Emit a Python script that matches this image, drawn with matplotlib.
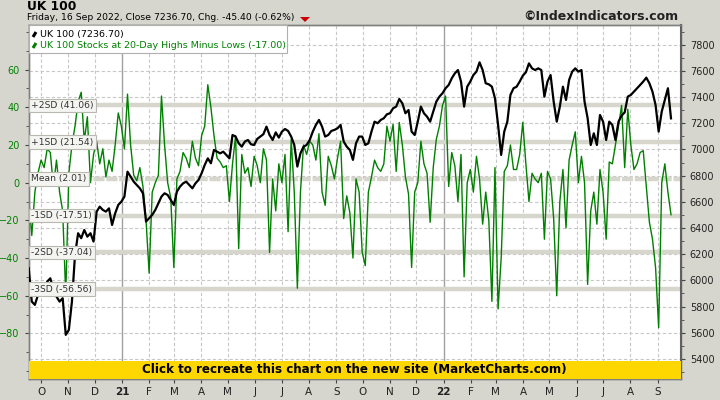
import numpy as np
import pandas as pd
import matplotlib
matplotlib.use('Agg')
import matplotlib.pyplot as plt
from matplotlib.patches import Rectangle, Polygon
from matplotlib.transforms import blended_transform_factory

# UK 100 closes, about two readings a week
uk100 = [6093, 5838, 5813, 5889, 5940, 5889, 5991, 6016, 5927, 5876,
         5838, 5864, 5584, 5622, 5838, 6194, 6360, 6322, 6385, 6334,
         6360, 6296, 6525, 6563, 6538, 6525, 6550, 6423, 6512, 6576,
         6601, 6640, 6830, 6792, 6754, 6729, 6703, 6665, 6449, 6474,
         6500, 6538, 6589, 6640, 6665, 6652, 6614, 6576, 6678, 6716,
         6741, 6754, 6729, 6703, 6741, 6767, 6818, 6881, 6932, 6894,
         6996, 6983, 6970, 6983, 6958, 6932, 7110, 7098, 7047, 7021,
         7060, 7072, 7039, 7034, 7080, 7098, 7116, 7174, 7110, 7072,
         7130, 7090, 7136, 7156, 7141, 7098, 7034, 6869, 6970, 7021,
         7034, 7072, 7136, 7187, 7225, 7174, 7098, 7110, 7141, 7149,
         7161, 7187, 7060, 7021, 6996, 6920, 7047, 7098, 7098, 7034,
         7047, 7136, 7212, 7200, 7225, 7238, 7268, 7276, 7314, 7327,
         7385, 7352, 7276, 7301, 7136, 7110, 7212, 7327, 7276, 7250,
         7212, 7289, 7365, 7403, 7429, 7467, 7492, 7543, 7581, 7606,
         7517, 7327, 7479, 7518, 7568, 7594, 7665, 7606, 7505, 7497,
         7479, 7390, 7187, 6958, 7136, 7212, 7416, 7467, 7479, 7518,
         7563, 7589, 7657, 7619, 7606, 7619, 7606, 7403, 7518, 7568,
         7365, 7212, 7327, 7479, 7378, 7530, 7594, 7619, 7594, 7606,
         7365, 7238, 7034, 7123, 7034, 7263, 7212, 7072, 7212, 7187,
         7072, 7212, 7258, 7283, 7403, 7416, 7441, 7467, 7492, 7518,
         7548, 7505, 7441, 7339, 7136, 7289, 7378, 7467, 7237]

# UK 100 stocks at 20-day highs minus lows, same dates
hl = [-9, -28, -5, 5, 12, 8, 18, 16, -2, 12,
      -5, -15, -60, 5, 20, 30, 43, 48, 22, 35,
      0, 15, 22, 10, 18, 3, 12, 6, 20, 37,
      30, 18, 47, 20, 4, 1, 8, -2, -20, -48,
      -5, 0, 4, 46, 20, 0, -8, -45, 2, 6,
      16, 13, 8, 22, 13, 9, 25, 30, 52, 40,
      25, 13, 11, 8, 9, -10, 10, 25, -35, 15,
      5, 8, -2, 14, 9, 0, 18, 12, -37, 2,
      -15, 10, 0, 15, -26, 23, -5, -56, -5, 20,
      15, 22, 20, 12, 26, -5, -12, 14, 9, 2,
      13, 22, -19, -7, -16, -40, 2, -5, -37, -44,
      -5, 3, 12, 8, 6, 10, 30, 22, 31, 6,
      32, 20, 3, -6, -45, -5, 0, 22, 10, 5,
      -21, 8, 23, 30, 41, 46, -2, 16, 9, -10,
      15, -50, 0, 7, -5, 14, 2, -22, -5, -20,
      -63, 8, -67, -40, 6, 9, 20, 7, 7, 15,
      32, 10, -10, 5, 2, 0, 5, -30, 6, 2,
      -19, -60, -10, 7, -24, 12, 20, 27, 0, 14,
      0, -54, -15, -5, -22, 7, -5, -30, 11, 10,
      20, 30, 41, 8, 39, 20, 7, 10, 16, 17,
      -2, -21, -30, -45, -77, 0, 10, -5, -17]

sd_levels = [41.06, 21.54, 2.01, -17.51, -37.04, -56.56]
sd_labels = ['+2SD (41.06)', '+1SD (21.54)', 'Mean (2.01)',
             '-1SD (-17.51)', '-2SD (-37.04)', '-3SD (-56.56)']

dates = pd.date_range('2020-09-17', '2022-09-16', periods=len(hl))

bg = '#d6d6ce'
green = '#008000'

fig = plt.figure(figsize=(7.2, 4), dpi=100, facecolor=bg)
ax = fig.add_axes([28.7/720, 1-379/400, 652/720, 354/400])
ax.set_facecolor('white')
ax2 = ax.twinx()

ax.set_ylim(-104.2, 83.7)
ax2.set_ylim(5247, 7950)
ax.set_xlim(pd.Timestamp('2020-09-17'), pd.Timestamp('2022-09-27'))

# grid: horizontal lines follow the right scale
tr = blended_transform_factory(ax.transAxes, ax2.transData)
right_ticks = np.arange(5400, 7801, 200)
for v in right_ticks:
    ax.plot([0, 1], [v, v], transform=tr, color='#c8c8c8', lw=0.8,
            ls=(0, (3, 2)), zorder=0)

months = pd.date_range('2020-10-01', '2022-09-01', freq='MS')
for m in months:
    if m.month == 1:
        ax.axvline(m, color='#a0a0a0', lw=1.0, zorder=0)
    else:
        ax.axvline(m, color='#c8c8c8', lw=0.8, ls=(0, (3, 2)), zorder=0)

# SD bands
for lev, lab in zip(sd_levels, sd_labels):
    if lab.startswith('Mean'):
        ax.axhline(lev, color='#d6d6cc', lw=3.2, ls=(0, (2.5, 0.4)), zorder=1)
    else:
        ax.axhline(lev, color='#d6d6cc', lw=3.2, zorder=1)

ax.plot(dates, hl, color=green, lw=1.0, zorder=3)
ax2.plot(dates, uk100, color='black', lw=1.6, zorder=4)

ytr = blended_transform_factory(ax.transAxes, ax.transData)
for lev, lab in zip(sd_levels, sd_labels):
    ax2.text(0.004, lev, lab, transform=ytr, fontsize=6.6, color='#333333',
             va='center', ha='left', zorder=8,
             bbox=dict(boxstyle='square,pad=0.25', fc='#f4f4f0', ec='#b8b8b0', lw=0.8))

# yellow banner at bottom
ax2.add_patch(Rectangle((0, 0), 1, (379-360.7)/354, transform=ax.transAxes,
                        fc='#ffd700', ec='none', zorder=10))
ax2.text(0.5, (379-370)/354, 'Click to recreate this chart on the new site (MarketCharts.com)',
         transform=ax.transAxes, ha='center', va='center', fontsize=8.6,
         fontweight='bold', color='black', zorder=11)

# ticks
ax.set_yticks(np.arange(-80, 61, 20))
ax.set_yticks(np.arange(-100, 81, 10), minor=True)
ax.tick_params(axis='y', which='both', colors='#444444', labelcolor=green,
               labelsize=7, length=3)
ax.tick_params(axis='y', which='minor', length=2)
ax2.set_yticks(right_ticks)
ax2.set_yticks(np.arange(5300, 7901, 100), minor=True)
ax2.tick_params(axis='y', which='both', colors='#444444', labelcolor='#222222',
                labelsize=7, length=3)
ax2.tick_params(axis='y', which='minor', length=2)

ax.set_xticks(months)
labels = []
for m in months:
    labels.append(m.strftime('%y') if m.month == 1 else m.strftime('%b')[0])
ax.set_xticklabels(labels)
ax.tick_params(axis='x', colors='#444444', labelcolor='#222222', labelsize=7.5, length=3,
               pad=2.5)
for t, m in zip(ax.get_xticklabels(), months):
    if m.month == 1:
        t.set_fontweight('bold')

for a in (ax, ax2):
    for s in a.spines.values():
        s.set_color('#808080')
        s.set_linewidth(1.0)
ax2.spines['right'].set_color('#606060')
ax2.spines['right'].set_linewidth(1.5)

# legend box
ax2.add_patch(Rectangle((0, 1-(53-25)/354), (287-28.7)/652, (53-25)/354,
                        transform=ax.transAxes, fc='white', ec='#b0b0b0', lw=0.8, zorder=12))
ax2.plot([33/720, 36/720], [1-37/400, 1-32/400], transform=fig.transFigure,
         color='black', lw=2.2, zorder=13, solid_capstyle='butt')
ax2.plot([33/720, 36/720], [1-48/400, 1-43/400], transform=fig.transFigure,
         color=green, lw=2.2, zorder=13, solid_capstyle='butt')
fig.text(40/720, 1-34.3/400, 'UK 100 (7236.70)', fontsize=6.8, color='black',
         va='center', zorder=14)
fig.text(40/720, 1-45.3/400, 'UK 100 Stocks at 20-Day Highs Minus Lows (-17.00)',
         fontsize=6.8, color=green, va='center', zorder=14)

# header
fig.text(27/720, 1-6/400, 'UK 100', fontsize=8.8, fontweight='bold', color='black', va='center')
fig.text(27/720, 1-18/400, 'Friday, 16 Sep 2022, Close 7236.70, Chg. -45.40 (-0.62%)',
         fontsize=6.7, color='black', va='center')
fig.patches.append(Polygon([[300/720, 1-17/400], [310/720, 1-17/400], [305/720, 1-22/400]],
                           closed=True, transform=fig.transFigure, fc='#cc0000', ec='none'))
fig.text(678/720, 1-17/400, '©IndexIndicators.com', fontsize=9, fontweight='bold',
         color='#222222', ha='right', va='center')

fig.savefig('out.png', dpi=100, facecolor=bg)
